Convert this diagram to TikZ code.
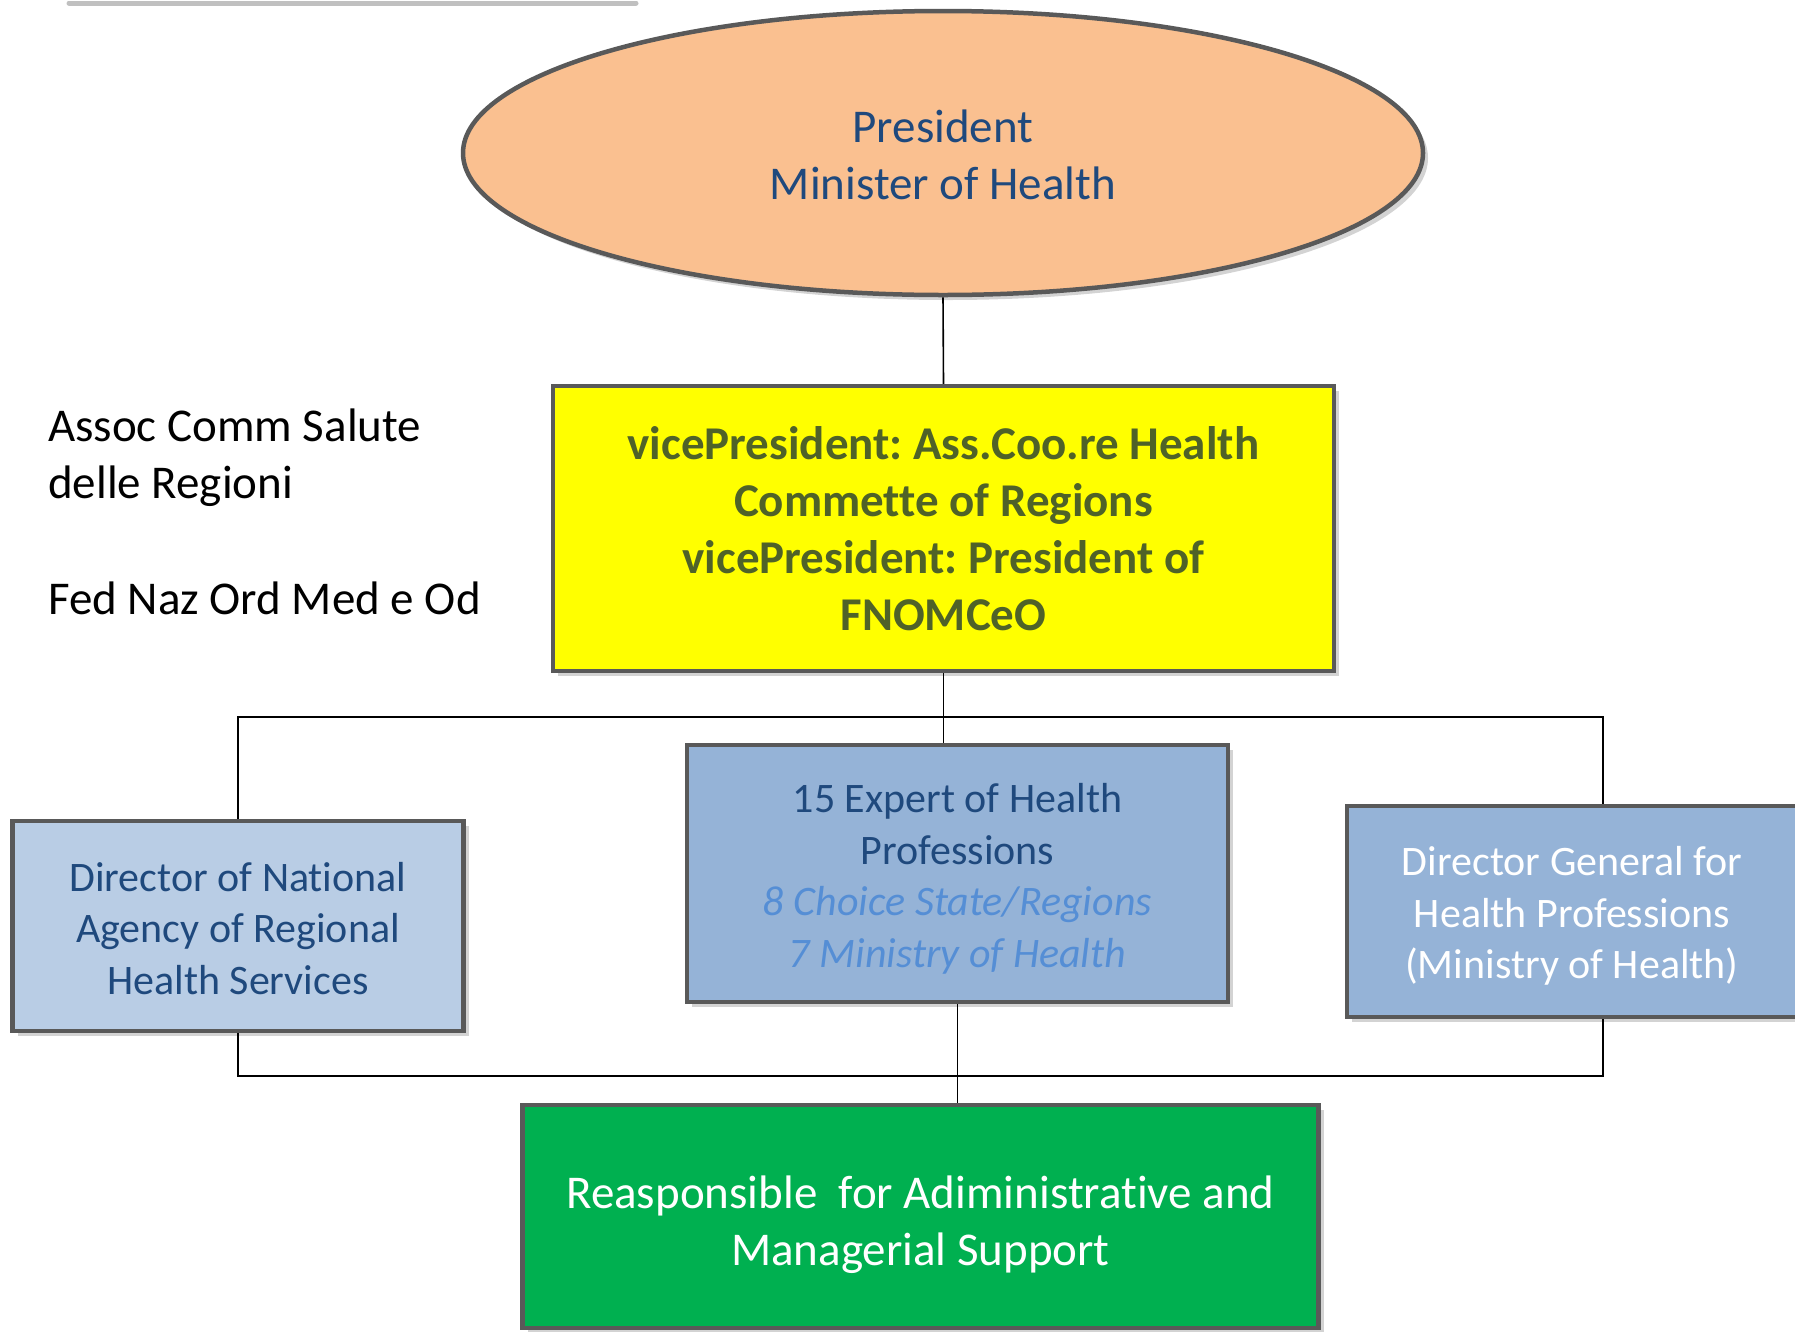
\documentclass[tikz,border=0pt]{standalone}
\usepackage{fontspec}
\setmainfont{Carlito}[Ligatures=NoCommon]
\usetikzlibrary{shapes.geometric,shadows}
\frenchspacing
\definecolor{bordergray}{HTML}{595959}
\definecolor{darkblue}{HTML}{1F497D}
\definecolor{lightblue}{HTML}{558ED5}
\definecolor{orangefill}{HTML}{FAC090}
\definecolor{yellowfill}{HTML}{FFFF00}
\definecolor{olivetext}{HTML}{4F6228}
\definecolor{paleblue}{HTML}{B9CDE5}
\definecolor{midblue}{HTML}{95B3D7}
\definecolor{greenfill}{HTML}{00B050}
\definecolor{topline}{HTML}{C0C0C0}
\tikzset{
  boxbase/.style={draw=bordergray, line width=4.5pt, align=center, inner sep=0pt,
    drop shadow={opacity=0.35, shadow xshift=5pt, shadow yshift=-5pt}},
  bigfont/.style={font=\fontsize{47}{57}\selectfont\frenchspacing},
  midfont/.style={font=\fontsize{42}{51.5}\selectfont\frenchspacing},
  conn/.style={draw=black, line width=1.6pt}
}
\begin{document}
\begin{tikzpicture}[x=1pt,y=-1pt]
\useasboundingbox (0,0) rectangle (1795,1331);
% faint top line
\draw[topline, line width=5pt, line cap=round] (69,3) -- (636,3);

% President ellipse
\node[boxbase, ellipse, fill=orangefill, minimum width=960pt, minimum height=284pt,
      text=darkblue, bigfont] (pres) at (943,153) {\rule{0pt}{36pt}President\\Minister of Health};

% vice president box
\node[boxbase, rectangle, fill=yellowfill, minimum width=781pt, minimum height=285pt,
      text=olivetext, bigfont] (vp) at (943.5,528.5)
  {\bfseries vicePresident: Ass.Coo.re Health\\\bfseries Commette of Regions\\\bfseries vicePresident: President of\\\bfseries FNOMCeO};

% left side notes
\node[anchor=west, align=left, inner sep=0pt, bigfont] (assoc) at (48,458) {Assoc Comm Salute\\delle Regioni};
\node[anchor=west, align=left, inner sep=0pt, bigfont] (fed) at (48,598) {Fed Naz Ord Med e Od};

% left box
\node[boxbase, rectangle, fill=paleblue, minimum width=451pt, minimum height=210pt,
      text=darkblue, midfont] (left) at (238,926)
  {\rule{0pt}{34pt}Director of National\\Agency of Regional\\Health Services};

% expert box
\node[boxbase, rectangle, fill=midblue, minimum width=541pt, minimum height=257pt,
      midfont] (expert) at (957.5,873.5)
  {\rule{0pt}{40pt}\textcolor{darkblue}{15 Expert of Health}\\\textcolor{darkblue}{Professions}\\\textcolor{lightblue}{\itshape 8 Choice State/Regions}\\\textcolor{lightblue}{\itshape 7 Ministry of Health}};

% right box (runs off the right edge)
\node[boxbase, rectangle, fill=midblue, minimum width=462pt, minimum height=211pt,
      text=white, midfont] (right) at (1578,911.5)
  {\renewcommand{\arraystretch}{1}\setlength{\tabcolsep}{0pt}%
   \begin{tabular}{c@{\hspace{12pt}}}\rule{0pt}{47pt}Director General for\\Health Professions\\(Ministry of Health)\end{tabular}};

% green box
\node[boxbase, rectangle, fill=greenfill, minimum width=796pt, minimum height=223pt,
      text=white, bigfont] (green) at (920.5,1216.5)
  {\rule{0pt}{50pt}Reasponsible\ \ for Adiministrative and\\Managerial Support};

% connectors
\coordinate (tbus) at (943,717);
\coordinate (rtb) at (1603,717);
\coordinate (bbus) at (957.5,1076);
\coordinate (rbb) at (1603,1076);

\draw[conn] (pres.south) -- (vp.north);
\draw[conn] (vp.south) -- (vp.south |- expert.north);
\draw[conn] (left.north) |- (tbus) -- (rtb) -- (rtb |- right.north);
\draw[conn] (left.south) |- (bbus) -- (rbb) -- (rbb |- right.south);
\draw[conn] (expert.south) -- (expert.south |- green.north);
\end{tikzpicture}
\end{document}
